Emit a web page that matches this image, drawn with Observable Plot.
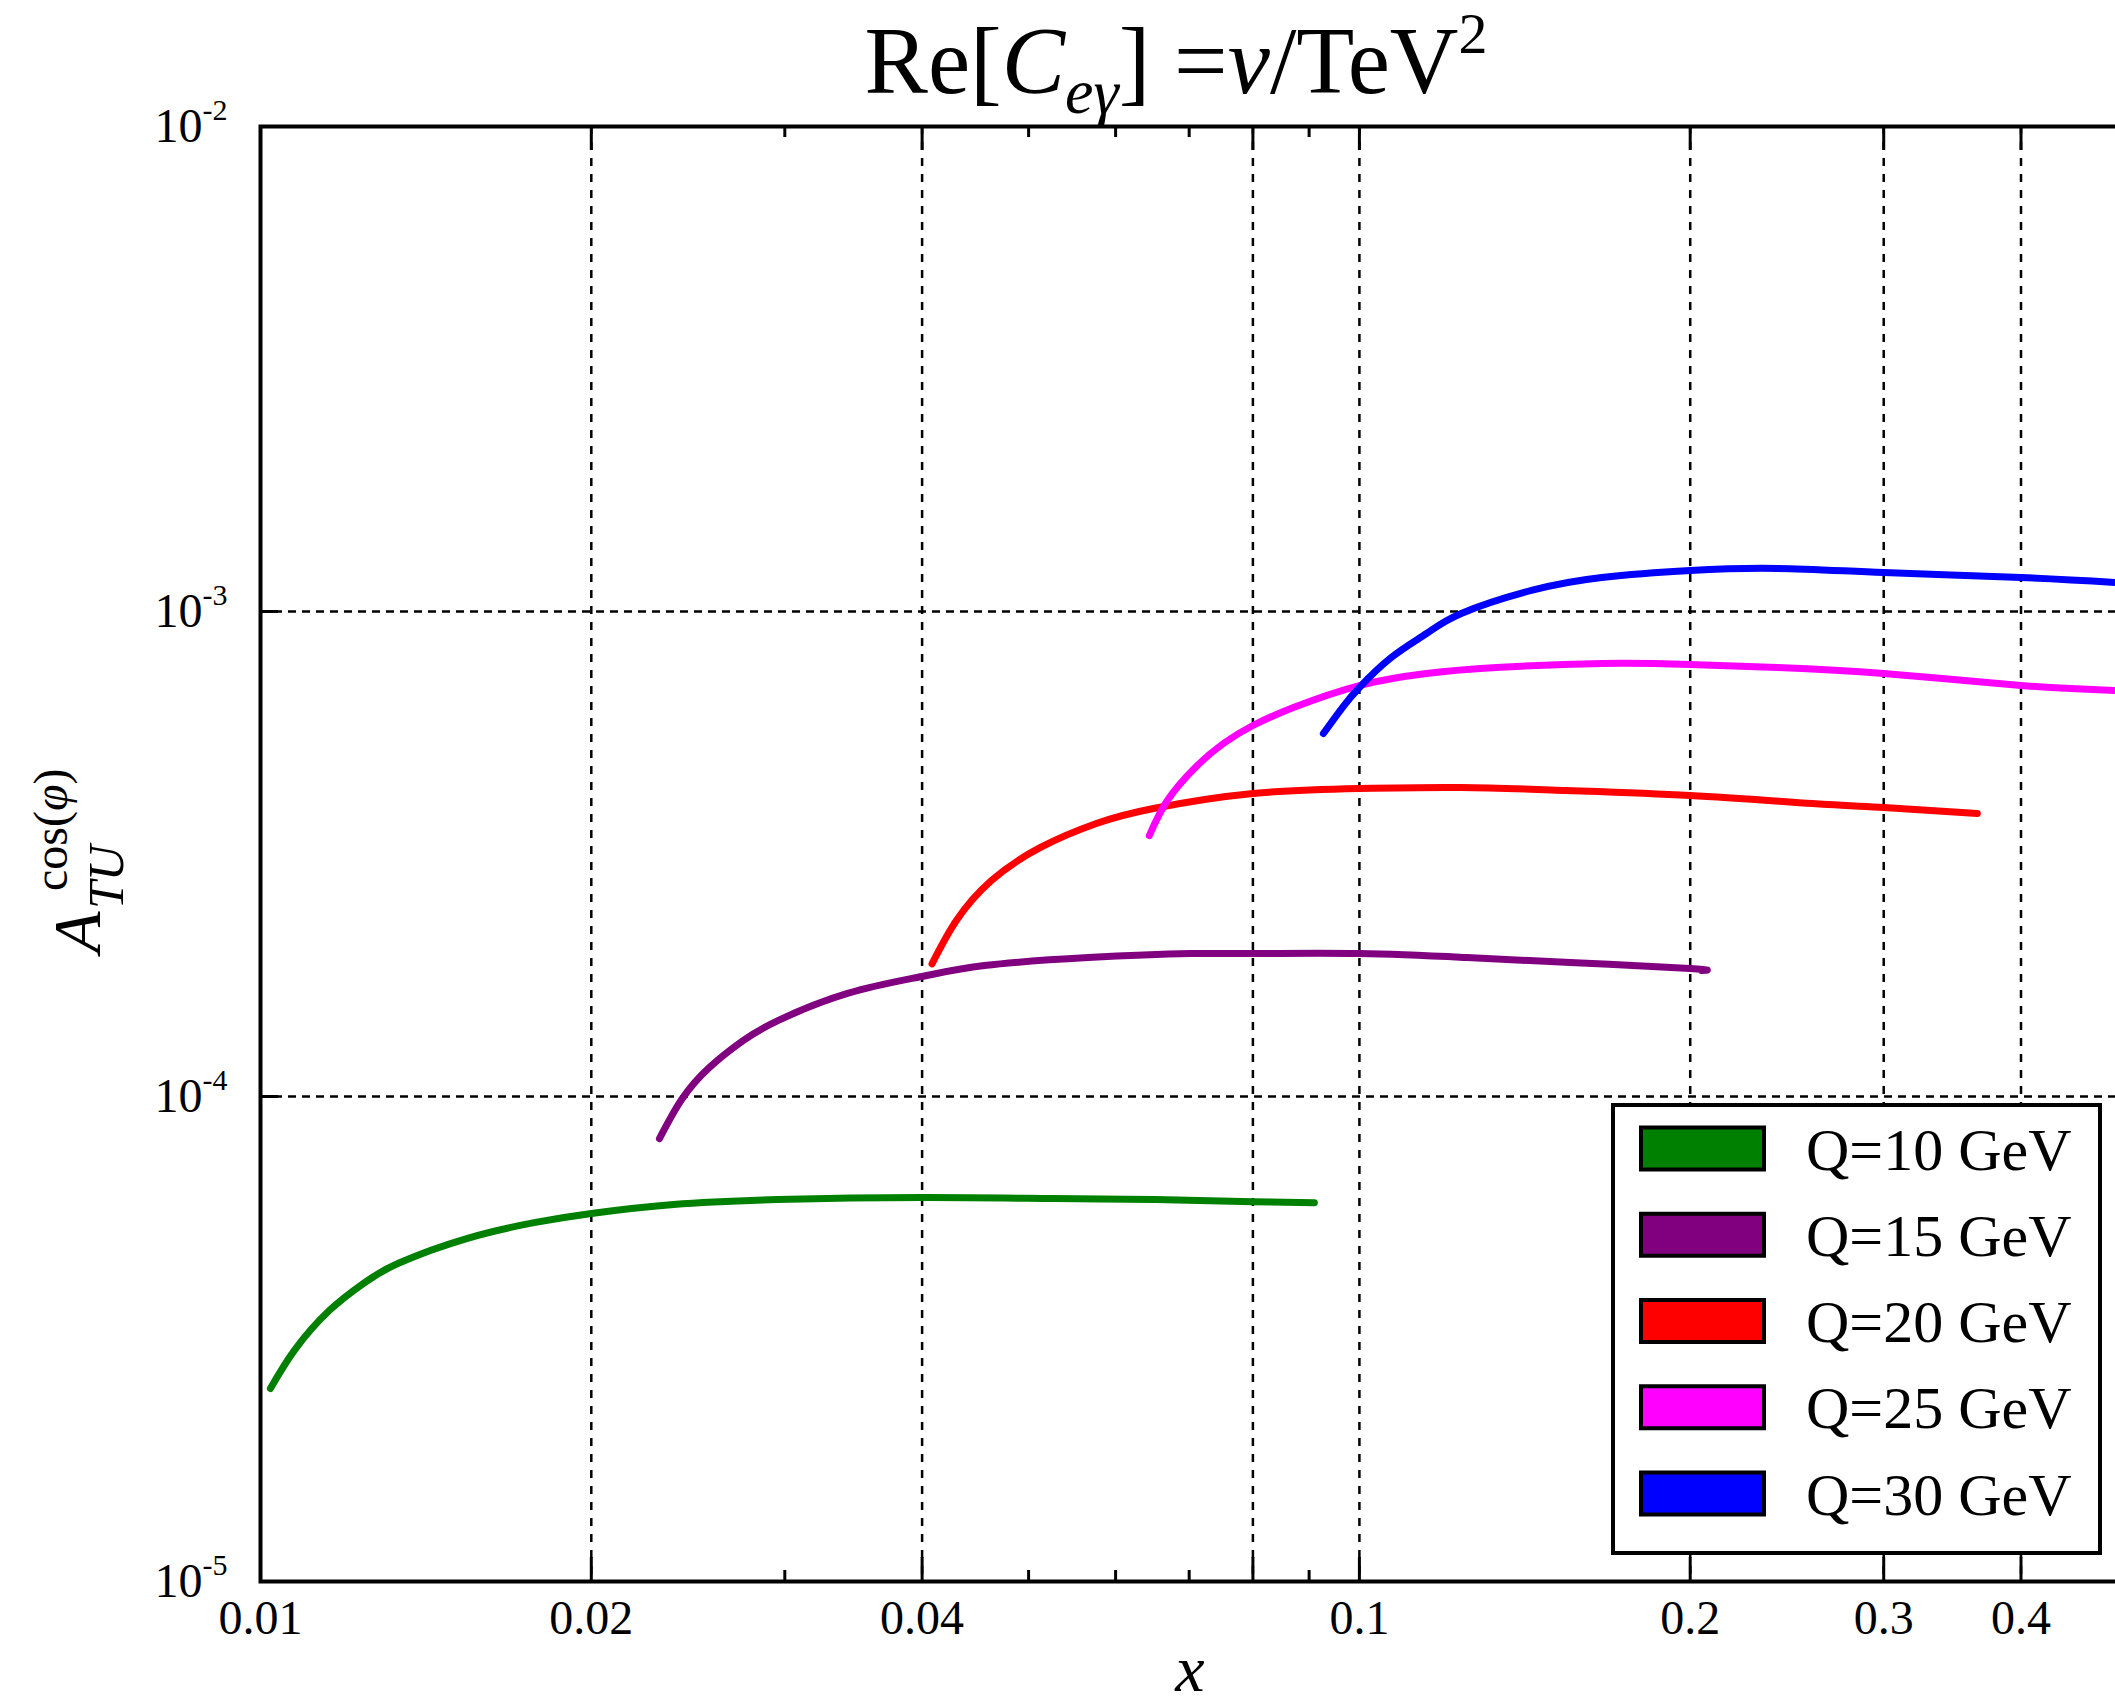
<!DOCTYPE html>
<html><head><meta charset="utf-8">
<script src="https://cdn.jsdelivr.net/npm/d3@7"></script>
<script src="https://cdn.jsdelivr.net/npm/@observablehq/plot@0.6"></script>
<style>
html,body{margin:0;padding:0;background:#fff;overflow:hidden;}
#chart{width:2115px;height:1708px;overflow:hidden;position:relative;}
#chart svg{max-width:none !important;}
</style></head><body><div id="chart"></div>
<script>
// ---- data ----
const seriesNames = ["Q=10 GeV", "Q=15 GeV", "Q=20 GeV", "Q=25 GeV", "Q=30 GeV"];
const seriesColors = ["#008000", "#800080", "#ff0000", "#ff00ff", "#0000ff"];

const q10x = [0.01021, 0.01074, 0.01155, 0.01241, 0.01335, 0.01543, 0.01779, 0.02, 0.02376, 0.02954, 0.04, 0.05257, 0.06523, 0.08, 0.0910];
const q10y = [2.50e-5, 3.00e-5, 3.62e-5, 4.12e-5, 4.53e-5, 5.10e-5, 5.50e-5, 5.74e-5, 5.99e-5, 6.13e-5, 6.19e-5, 6.16e-5, 6.13e-5, 6.07e-5, 6.04e-5];

const q15x = [0.02307, 0.02416, 0.02562, 0.02751, 0.0296, 0.03421, 0.04, 0.04558, 0.05667, 0.07034, 0.08, 0.1, 0.1252, 0.1556, 0.2, 0.2048];
const q15y = [8.19e-5, 9.85e-5, 1.148e-4, 1.305e-4, 1.435e-4, 1.631e-4, 1.768e-4, 1.862e-4, 1.934e-4, 1.971e-4, 1.971e-4, 1.971e-4, 1.934e-4, 1.889e-4, 1.836e-4, 1.818e-4];

const q20x = [0.04084, 0.04298, 0.04627, 0.05126, 0.05763, 0.06494, 0.08, 0.1, 0.1238, 0.1543, 0.2, 0.2584, 0.3, 0.365];
const q20y = [1.877e-4, 2.306e-4, 2.789e-4, 3.262e-4, 3.655e-4, 3.925e-4, 4.214e-4, 4.316e-4, 4.336e-4, 4.275e-4, 4.174e-4, 4.018e-4, 3.944e-4, 3.833e-4];

const q25x = [0.06439, 0.06687, 0.07091, 0.0752, 0.08, 0.0871, 0.1, 0.1151, 0.1332, 0.1662, 0.2, 0.2401, 0.3, 0.4, 0.487];
const q25y = [3.452e-4, 4.076e-4, 4.77e-4, 5.343e-4, 5.82e-4, 6.339e-4, 7.037e-4, 7.451e-4, 7.664e-4, 7.812e-4, 7.775e-4, 7.664e-4, 7.451e-4, 7.037e-4, 6.872e-4];

const q30x = [0.09273, 0.0965, 0.1, 0.1069, 0.1151, 0.1238, 0.1434, 0.1662, 0.2, 0.2401, 0.3, 0.4, 0.487];
const q30y = [5.604e-4, 6.339e-4, 6.971e-4, 8.038e-4, 9.007e-4, 9.906e-4, 1.105e-3, 1.175e-3, 1.215e-3, 1.227e-3, 1.203e-3, 1.175e-3, 1.148e-3];

const xMajorTicks = [0.01, 0.02, 0.04, 0.08, 0.1, 0.2, 0.3, 0.4];
const xTickLabels = ["0.01", "0.02", "0.04", "0.06", "0.1", "0.2", "0.3", "0.4"];
const xMinorTicks = [0.03, 0.05, 0.06, 0.07, 0.09];
const xGridTicks = [0.02, 0.04, 0.08, 0.1, 0.2, 0.3, 0.4];
const yMajorTicks = [1e-5, 1e-4, 1e-3, 1e-2];
const yGridTicks = [1e-4, 1e-3];
const xDomain = [0.01, 0.5];
const yDomain = [1e-5, 1e-2];

// ---- build table ----
const xs = [q10x, q15x, q20x, q25x, q30x];
const ys = [q10y, q15y, q20y, q25y, q30y];
const data = seriesNames.flatMap((name, i) => xs[i].map((x, j) => ({series: name, x, y: ys[i][j]})));

const SERIF = "'Liberation Serif', 'Times New Roman', serif";
const W = 2140, H = 1708;
const mL = 260, mR = 13, mT = 126, mB = 127;
const plotW = W - mL - mR, plotH = H - mT - mB;

const chart = Plot.plot({
  width: W, height: H,
  marginLeft: mL, marginRight: mR, marginTop: mT, marginBottom: mB,
  style: {fontFamily: SERIF, background: "white", color: "black", maxWidth: "none", overflow: "visible"},
  x: {type: "log", domain: xDomain},
  y: {type: "log", domain: yDomain},
  color: {domain: seriesNames, range: seriesColors},
  marks: [
    Plot.ruleX(xGridTicks, {stroke: "black", strokeWidth: 2.5, strokeDasharray: "8,8"}),
    Plot.ruleY(yGridTicks, {stroke: "black", strokeWidth: 2.5, strokeDasharray: "8,6"}),
    Plot.ruleX(xMajorTicks, {stroke: "black", strokeWidth: 3, insetTop: plotH - 24}),
    Plot.ruleX(xMajorTicks, {stroke: "black", strokeWidth: 3, insetBottom: plotH - 24}),
    Plot.ruleX(xMinorTicks, {stroke: "black", strokeWidth: 3, insetTop: plotH - 11}),
    Plot.ruleX(xMinorTicks, {stroke: "black", strokeWidth: 3, insetBottom: plotH - 11}),
    Plot.ruleY(yMajorTicks, {stroke: "black", strokeWidth: 3, insetRight: plotW - 18}),
    Plot.line(data, {x: "x", y: "y", z: "series", stroke: "series", strokeWidth: 7, curve: "natural"}),
    Plot.frame({stroke: "black", strokeWidth: 4}),
    Plot.axisX({ticks: xMajorTicks, tickFormat: d => xTickLabels[xMajorTicks.indexOf(d)], tickSize: 0, tickPadding: 18, fontSize: 48, label: null}),
    Plot.axisY({ticks: yMajorTicks, tickFormat: d => "10^" + Math.round(Math.log10(d)), tickSize: 0, tickPadding: 33, fontSize: 48, label: null})
  ]
});

document.getElementById("chart").appendChild(chart);
const svg = d3.select(chart);

// superscript exponents on y tick labels
svg.selectAll("text").each(function() {
  const t = this.textContent;
  if (t.startsWith("10^")) {
    const [b, e] = t.split("^");
    const s = d3.select(this);
    s.text(b);
    s.append("tspan").attr("dy", -22).attr("font-size", 30).text(e);
  }
});

// title
const title = svg.append("text").attr("x", 1176).attr("y", 93).attr("text-anchor", "middle")
  .attr("font-size", 95).attr("font-family", SERIF).attr("fill", "black");
title.append("tspan").text("Re[");
title.append("tspan").attr("font-style", "italic").text("C");
title.append("tspan").attr("font-style", "italic").attr("font-size", 64).attr("dy", 20).text("eγ");
title.append("tspan").attr("dy", -20).text("] =");
title.append("tspan").attr("font-style", "italic").text("v");
title.append("tspan").text("/TeV");
title.append("tspan").attr("font-size", 58).attr("dy", -40).text("2");

// y label
const yl = svg.append("text").attr("transform", "translate(100,953) rotate(-90)")
  .attr("text-anchor", "start").attr("font-size", 68).attr("font-family", SERIF).attr("fill", "black");
yl.append("tspan").attr("x", 0).attr("y", 0).attr("font-style", "italic").text("A");
yl.append("tspan").attr("x", 62).attr("y", -33).attr("font-size", 48).text("cos(");
yl.append("tspan").attr("font-size", 48).attr("font-style", "italic").text("φ");
yl.append("tspan").attr("font-size", 48).text(")");
yl.append("tspan").attr("x", 44).attr("y", 23).attr("font-size", 50).attr("font-style", "italic").text("TU");

// x label
svg.append("text").attr("x", 1190).attr("y", 1691).attr("text-anchor", "middle")
  .attr("font-size", 66).attr("font-style", "italic").attr("font-family", SERIF).attr("fill", "black").text("x");

// legend
const lg = svg.append("g");
lg.append("rect").attr("x", 1613).attr("y", 1105).attr("width", 487).attr("height", 448)
  .attr("fill", "white").attr("stroke", "black").attr("stroke-width", 4);
seriesNames.forEach((n, i) => {
  const cy = 1148.5 + i * 86.25;
  lg.append("rect").attr("x", 1641).attr("y", cy - 21).attr("width", 123).attr("height", 42)
    .attr("fill", seriesColors[i]).attr("stroke", "black").attr("stroke-width", 4);
  lg.append("text").attr("x", 1806).attr("y", cy + 21).attr("text-anchor", "start").attr("font-size", 60)
    .attr("font-family", SERIF).attr("fill", "black").text(n);
});
</script>
</body></html>
